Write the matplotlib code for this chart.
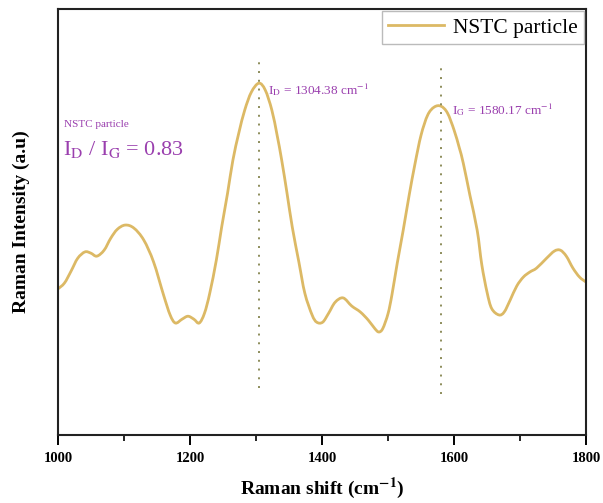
import matplotlib
matplotlib.use("Agg")
import matplotlib.pyplot as plt
from matplotlib.path import Path
from matplotlib.patches import PathPatch
from matplotlib.lines import Line2D

# Raman spectrum of NSTC particle (intensity in arbitrary units)
shift = [1000, 1010, 1020, 1030, 1041, 1050, 1059, 1070, 1080, 1090, 1102, 1115, 1130,
         1145, 1160, 1170, 1178, 1188, 1197, 1206, 1214, 1222, 1230, 1240, 1248, 1257,
         1265, 1274, 1283, 1293, 1304.38, 1314, 1324, 1332, 1339, 1347, 1355, 1365, 1374,
         1385, 1392, 1401, 1410, 1420, 1432, 1445, 1458, 1470, 1480, 1486, 1492, 1500,
         1506, 1514, 1523, 1532, 1541, 1550, 1560, 1570, 1580.17, 1590, 1600, 1608, 1614,
         1624, 1635, 1642, 1650, 1657, 1668, 1676, 1685, 1695, 1705, 1715, 1725, 1740, 1752,
         1761, 1770, 1780, 1790, 1800]
intensity = [343, 357, 385, 415, 430, 427, 420, 434, 462, 483, 493, 486, 458,
             406, 329, 282, 263, 272, 279, 272, 263, 286, 333, 411, 488, 568,
             645, 709, 763, 805, 826, 810, 763, 704, 645, 568, 488, 406, 333,
             282, 265, 265, 286, 312, 322, 303, 289, 270, 250, 242, 250, 285,
             330, 404, 481, 563, 638, 704, 751, 770, 772, 756, 716, 674, 638,
             563, 481, 400, 335, 297, 282, 289, 317, 350, 371, 383, 392, 415, 432,
             434, 420, 392, 371, 359]

peak_pos = [1304.38, 1580.17]
peak_lines = [(110, 878), (96, 868)]
ratio = 0.83

plt.rcParams["font.family"] = ["Liberation Serif", "DejaVu Serif"]
plt.rcParams["mathtext.fontset"] = "stix"

purple = "#9a3fae"
gold = "#dcb965"


def smooth_path(xs, ys):
    """Catmull-Rom style cubic Bezier through the measured points."""
    verts = [(xs[0], ys[0])]
    codes = [Path.MOVETO]
    n = len(xs)
    for i in range(n - 1):
        x0, y0 = (xs[i - 1], ys[i - 1]) if i > 0 else (xs[i], ys[i])
        x1, y1 = xs[i], ys[i]
        x2, y2 = xs[i + 1], ys[i + 1]
        x3, y3 = (xs[i + 2], ys[i + 2]) if i + 2 < n else (x2, y2)
        c1 = (x1 + (x2 - x0) / 6.0, y1 + (y2 - y0) / 6.0)
        c2 = (x2 - (x3 - x1) / 6.0, y2 - (y3 - y1) / 6.0)
        verts += [c1, c2, (x2, y2)]
        codes += [Path.CURVE4] * 3
    return Path(verts, codes)


fig = plt.figure(figsize=(6.03, 5.03), dpi=100)
ax = fig.add_axes([0.096, 0.135, 0.876, 0.847])

ax.add_patch(PathPatch(smooth_path(shift, intensity), facecolor="none",
                       edgecolor=gold, lw=2.0, capstyle="round", joinstyle="round"))

for pos, (y0, y1) in zip(peak_pos, peak_lines):
    ax.plot([pos, pos], [y0, y1], color="#8c8c5a", lw=1.4, linestyle=(0, (1, 3.5)))

# peak labels next to the peak tops
ax.text(1318, 812, r"I$_\mathrm{D}$ = %.2f cm$^{-1}$" % peak_pos[0],
        color=purple, fontsize=9.5, va="center", ha="left")
ax.text(1597, 763, r"I$_\mathrm{G}$ = %.2f cm$^{-1}$" % peak_pos[1],
        color=purple, fontsize=9.5, va="center", ha="left")

ax.text(1010, 728, "NSTC particle", color=purple, fontsize=8, va="center", ha="left")
ax.text(1008, 670, r"I$_\mathrm{D}$ / I$_\mathrm{G}$ = %.2f" % ratio,
        color=purple, fontsize=16, va="center", ha="left")

ax.set_xlim(1000, 1800)
ax.set_ylim(0, 1000)
ax.set_xticks([1000, 1200, 1400, 1600, 1800])
ax.set_xticks([1100, 1300, 1500, 1700], minor=True)
ax.set_yticks([])
ax.tick_params(axis="x", which="major", direction="out", length=7, width=1.4, pad=5,
               labelsize=10.5)
ax.tick_params(axis="x", which="minor", direction="out", length=4, width=1.2)
for lab in ax.get_xticklabels():
    lab.set_fontweight("bold")
for sp in ax.spines.values():
    sp.set_linewidth(1.5)
    sp.set_color("#222222")

ax.set_xlabel(r"Raman shift (cm$^{\mathbf{-1}}$)", fontsize=14, fontweight="bold", labelpad=8)
ax.set_ylabel("Raman Intensity (a.u)", fontsize=14, fontweight="bold", labelpad=20)

handle = Line2D([], [], color=gold, lw=2.0)
leg = ax.legend([handle], ["NSTC particle"], loc="upper right", fontsize=15.5,
                frameon=True, fancybox=False, handlelength=2.6, borderaxespad=0.1,
                borderpad=0.3, handletextpad=0.4)
leg.get_frame().set_edgecolor("#aaaaaa")
leg.get_frame().set_linewidth(1.0)

fig.savefig("out.png", dpi=100)
